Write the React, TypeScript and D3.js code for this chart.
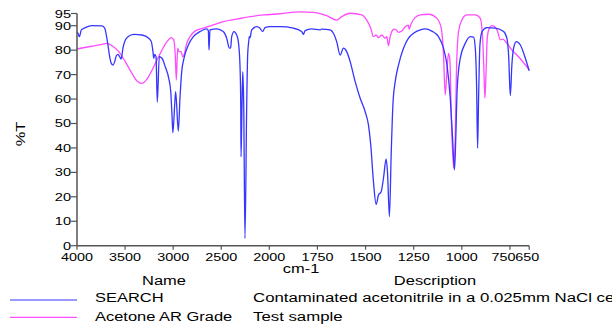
import React from "react";
import * as d3 from "d3";

// ---- Data ----
const xTicks = [4000, 3500, 3000, 2500, 2000, 1750, 1500, 1250, 1000, 750, 650];
const yTicks = [0, 10, 20, 30, 40, 50, 60, 70, 80, 90, 95];

// SEARCH (blue): [wavenumber, %T]
const searchSpectrum: [number, number][] = [
  [4000, 87.5], [3990, 86.9], [3976, 85.5], [3955, 88.3], [3914, 89.2], [3844, 90], [3740, 89.9],
  [3712, 89], [3695, 86.2], [3678, 82.1], [3660, 77.3], [3643, 74.6], [3626, 73.9], [3608, 75.3],
  [3591, 77.7], [3574, 78.3], [3556, 77.3], [3542, 76.4], [3532, 78], [3522, 80.8], [3504, 83.5],
  [3470, 85.5], [3410, 86.5], [3324, 86.2], [3254, 84.9], [3227, 83.5], [3210, 79.4], [3202, 76.7],
  [3192, 78.3], [3178, 77.3], [3165, 58.8], [3144, 77.3], [3116, 76.7], [3082, 73.2], [3046, 68.5],
  [3025, 63], [3012, 53.5], [3003, 46.2], [2984, 57.6], [2974, 63], [2946, 46.9], [2929, 60.3],
  [2911, 71.2], [2887, 76.7], [2842, 82.1], [2790, 85.5], [2721, 87.6], [2651, 88.7], [2634, 88],
  [2627, 80.1], [2617, 88.3], [2547, 88.7], [2479, 87.6], [2443, 84.9], [2416, 80.8], [2402, 81],
  [2391, 85.5], [2367, 87.6], [2339, 86.2], [2322, 83.5], [2305, 73.9], [2297, 57.6], [2294, 36.4],
  [2284, 57.6], [2276, 71.2], [2266, 57.6], [2253, 3], [2235, 57.6], [2225, 78], [2214, 83.5],
  [2208, 85.5], [2201, 85], [2183, 88.3], [2131, 89.6], [2097, 89], [2069, 87.6], [2045, 89.2],
  [1996, 89.6], [1944, 89.6], [1875, 89], [1832, 87.6], [1823, 86.5], [1814, 88], [1780, 88.7],
  [1736, 88.3], [1728, 88.6], [1684, 88.3], [1667, 86.9], [1650, 83.5], [1632, 78], [1615, 80.8],
  [1598, 79.4], [1580, 75.3], [1554, 67.1], [1528, 60.3], [1502, 54.8], [1485, 49.4], [1473, 41.2],
  [1459, 26.2], [1445, 16.9], [1433, 20.7], [1419, 22.1], [1407, 27.6], [1393, 35.5], [1386, 30],
  [1376, 11.9], [1367, 37.1], [1358, 57.6], [1346, 67.1], [1329, 73.9], [1303, 80.8], [1277, 84.9],
  [1251, 86.9], [1216, 88.3], [1190, 88.7], [1156, 87.8], [1121, 85.5], [1095, 80.8], [1077, 73.9],
  [1060, 60.3], [1048, 43.9], [1038, 31], [1031, 45], [1024, 64.4], [1008, 76.7], [982, 82.8],
  [956, 85.5], [939, 85.3], [930, 80.8], [923, 64.4], [918, 39.9], [913, 60], [906, 82.1],
  [895, 87.6], [870, 89.2], [826, 89], [783, 87.6], [766, 84.9], [757, 78], [748, 61.4],
  [740, 73.9], [731, 80.8], [717, 83.5], [696, 82.1], [670, 76.7], [650, 71.5],
];

// Acetone AR Grade (magenta): [wavenumber, %T]
const acetoneSpectrum: [number, number][] = [
  [4000, 80.5], [3878, 81.4], [3740, 82.4], [3688, 82.8], [3636, 81.8], [3566, 79.4], [3498, 75.3],
  [3428, 70.5], [3376, 67.4], [3324, 66.4], [3272, 68.2], [3202, 73.2], [3134, 78.7], [3064, 83.5],
  [3019, 85.1], [2994, 84.2], [2978, 78], [2967, 67.8], [2953, 80.8], [2939, 79.4], [2918, 79.4],
  [2900, 77.3], [2887, 78], [2859, 82.8], [2825, 85.5], [2773, 87.8], [2686, 89], [2582, 90.3],
  [2478, 91.7], [2339, 92.7], [2201, 93.7], [2062, 94.4], [1944, 94.9], [1840, 95.7], [1771, 95.5],
  [1702, 94.1], [1650, 92.3], [1624, 93.7], [1580, 95.1], [1520, 94.4], [1494, 92.3], [1473, 89],
  [1459, 85.5], [1445, 86.2], [1433, 85.1], [1416, 86.2], [1398, 84.9], [1390, 85.5], [1381, 81.8],
  [1373, 85.2], [1358, 88.3], [1346, 88.6], [1329, 87.3], [1312, 87.8], [1294, 89.6], [1277, 90.2],
  [1274, 88.5], [1265, 90.5], [1243, 93.3], [1216, 94.4], [1173, 94.7], [1129, 93], [1107, 89],
  [1095, 78], [1086, 61.7], [1077, 72], [1069, 78.7], [1062, 76], [1055, 53.5], [1046, 35.8],
  [1041, 31.7], [1034, 45], [1028, 71.2], [1017, 87.6], [1000, 92.3], [974, 94.4], [930, 94.4],
  [904, 93], [892, 84.9], [885, 71.2], [880, 60.3], [874, 71], [868, 84.9], [857, 89], [843, 90],
  [817, 88.3], [800, 84.2], [788, 84.5], [766, 82.8], [740, 80.1], [705, 77.3], [650, 71.9],
];

const seriesNames = ["SEARCH", "Acetone AR Grade"];
const seriesDescriptions = ["Contaminated acetonitrile in a 0.025mm NaCl cell", "Test sample"];
const seriesColors = ["#3535ff", "#ff4cff"];

const FONT = "'Liberation Sans', Arial, sans-serif";

function SText(props: {
  x: number; y: number; size: number; sx?: number; anchor?: string; rotate?: number; children: React.ReactNode;
}) {
  const { x, y, size, sx = 1.22, anchor = "start", rotate } = props;
  const tr = `translate(${x},${y})${rotate ? ` rotate(${rotate})` : ""} scale(${sx},1)`;
  return (
    <text transform={tr} fontSize={size} fontFamily={FONT} textAnchor={anchor} fill="#000">
      {props.children}
    </text>
  );
}

export default function App() {
  const x = d3.scaleLinear().domain([4000, 2000, 650]).range([77, 269.3, 529.2]);
  const y = d3.scaleLinear().domain([0, 95]).range([245.7, 13.5]);
  const line = d3
    .line<[number, number]>()
    .x((d) => x(d[0]))
    .y((d) => y(d[1]))
    .curve(d3.curveMonotoneX);

  // the last two tick labels are nudged apart so they do not collide
  const labelShift = (t: number) => (t === 750 ? -6.5 : t === 650 ? -2 : 0);

  const axisColor = "#555";
  return (
    <svg
      width={612}
      height={326}
      style={{ position: "absolute", left: 0, top: 0, background: "#fff" }}
    >
      <rect x={0} y={0} width={612} height={326} fill="#fff" />
      {/* spectra */}
      <path d={line(acetoneSpectrum) || ""} fill="none" stroke={seriesColors[1]} strokeWidth={1.3} />
      <path d={line(searchSpectrum) || ""} fill="none" stroke={seriesColors[0]} strokeWidth={1.3} />

      {/* y axis */}
      <line x1={x(4000)} x2={x(4000)} y1={y(95)} y2={y(0)} stroke={axisColor} strokeWidth={1.5} />
      {yTicks.map((t) => (
        <g key={"y" + t}>
          <line x1={x(4000) - 6} x2={x(4000)} y1={y(t)} y2={y(t)} stroke={axisColor} strokeWidth={1.2} />
          <SText x={x(4000) - 6} y={y(t) + 4} size={11.5} sx={1.27} anchor="end">
            {t}
          </SText>
        </g>
      ))}
      {/* x axis */}
      <line x1={x(4000)} x2={x(650)} y1={y(0)} y2={y(0)} stroke={axisColor} strokeWidth={1.5} />
      {xTicks.map((t) => (
        <g key={"x" + t}>
          <line x1={x(t)} x2={x(t)} y1={y(0)} y2={y(0) + 4} stroke={axisColor} strokeWidth={1.2} />
          <SText x={x(t) + labelShift(t)} y={260.5} size={11.5} sx={1.25} anchor="middle">
            {t}
          </SText>
        </g>
      ))}
      <SText x={301} y={273} size={13.5} anchor="middle">cm-1</SText>
      <SText x={25} y={134} size={13.5} anchor="middle" rotate={-90}>%T</SText>

      {/* legend */}
      <SText x={164} y={285} size={13.5} anchor="middle">Name</SText>
      <SText x={435} y={285} size={13.5} anchor="middle">Description</SText>
      {seriesNames.map((n, i) => (
        <g key={n}>
          <line x1={10} x2={77} y1={300 + i * 17.3} y2={300 + i * 17.3} stroke={seriesColors[i]} strokeWidth={1.2} />
          <SText x={95} y={302.3 + i * 18.4} size={13.5}>{n}</SText>
          <SText x={253} y={302.3 + i * 18.4} size={13.5} sx={1.245}>{seriesDescriptions[i]}</SText>
        </g>
      ))}
    </svg>
  );
}
